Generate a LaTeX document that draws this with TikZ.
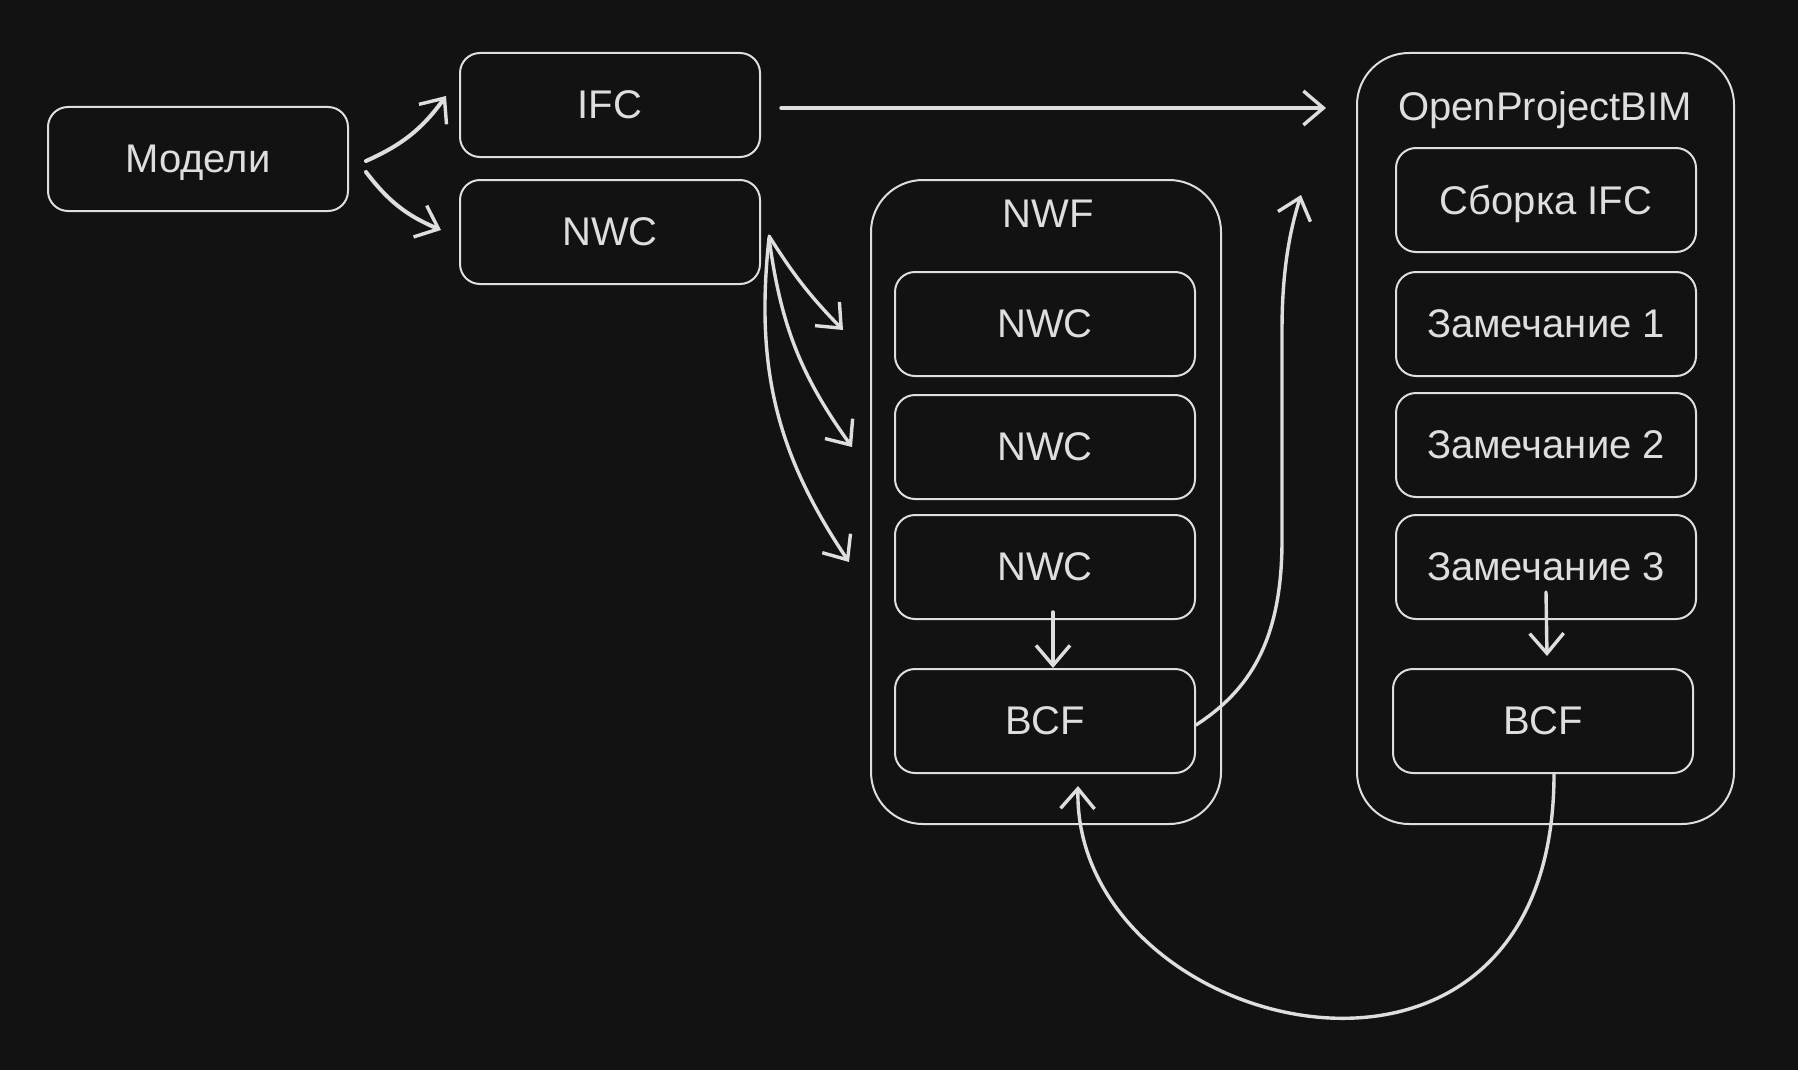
\documentclass[tikz,border=0pt]{standalone}
\usepackage{fontspec}
\setmainfont{Liberation Sans}
\usetikzlibrary{arrows.meta}
\definecolor{bg}{RGB}{18,18,18}
\definecolor{ink}{RGB}{222,222,222}

\begin{document}
\begin{tikzpicture}[x=0.5pt,y=-0.5pt,
		box/.style={draw=ink,line width=1pt,rounded corners=10pt,minimum width=150pt,minimum height=52pt,text=ink,text depth=0pt,font=\fontsize{20}{24}\selectfont},
		cont/.style={draw=ink,line width=1pt,rounded corners=26pt},
		ttl/.style={text=ink,text depth=0pt,font=\fontsize{20}{24}\selectfont},
		arr/.style={draw=ink,line width=1.7pt,line cap=round,-{Straight Barb[length=10pt,width=17pt,line width=1.7pt]}}]
			\fill[bg] (0,0) rectangle (1798,1070);
			\useasboundingbox (0,0) rectangle (1798,1070);
			\node[cont,minimum width=175pt,minimum height=322pt] (nwf) at (1046,502) {};
			\node[cont,minimum width=188.5pt,minimum height=385.5pt] (opb) at (1545.5,438.5) {};
			\node[ttl] (nwft) at (1048,214) {NWF};
			\node[ttl] (opbt) at (1545,106) {OpenProjectBIM};
			\node[box] (mod) at (198,159) {Модели};
			\node[box] (ifc) at (610,105) {IFC};
			\node[box] (nwc) at (610,232) {NWC};
			\node[box] (n1) at (1045,324) {NWC};
			\node[box] (n2) at (1045,447) {NWC};
			\node[box] (n3) at (1045,567) {NWC};
			\node[box] (bcfl) at (1045,721) {BCF};
			\node[box] (sb) at (1546,200) {Сборка IFC};
			\node[box] (z1) at (1546,324) {Замечание 1};
			\node[box] (z2) at (1546,445) {Замечание 2};
			\node[box] (z3) at (1546,567) {Замечание 3};
			\node[box] (bcfr) at (1543,721) {BCF};
			\coordinate (up) at (1301,195);
			\draw[arr,line width=2pt] ([xshift=8.5pt,yshift=-1pt]mod.east) to[bend right=15] ([xshift=-6.5pt,yshift=4.5pt]ifc.west);
			\draw[arr,line width=2pt] ([xshift=8.5pt,yshift=-6.5pt]mod.east) to[bend right=15] ([xshift=-9pt,yshift=1pt]nwc.west);
			\draw[arr,shorten <=10pt,shorten >=15pt] ([yshift=-1.5pt]ifc.east) -- ([yshift=-1.5pt]ifc.east -| opb.west);
			\draw[arr] ([xshift=4pt,yshift=-2pt]nwc.east) to[bend right=6] ([xshift=-25.5pt,yshift=-3pt]n1.west);
			\draw[arr] ([xshift=4pt,yshift=-3pt]nwc.east) to[bend right=14] ([xshift=-21pt]n2.west);
			\draw[arr] ([xshift=4pt,yshift=-3pt]nwc.east) to[bend right=20] ([xshift=-22.5pt,yshift=2.5pt]n3.west);
			\draw[arr] ([xshift=4pt,yshift=4pt]n3.south) -- ([xshift=4pt]bcfl.north);
			\draw[arr] ([yshift=14pt]z3.south) -- ([xshift=2pt,yshift=6pt]bcfr.north);
			\draw[arr] ([yshift=-2pt]bcfl.east) .. controls (1250,690) and (1282,640) .. (1282,540) -- (1282,330) .. controls (1282,270) and (1290,230) .. (up);
			\draw[arr] ([xshift=5.5pt]bcfr.south) .. controls +(0,380) and +(-5,250) .. ([xshift=16.5pt,yshift=-6pt]bcfl.south);
		\end{tikzpicture}
\end{document}
